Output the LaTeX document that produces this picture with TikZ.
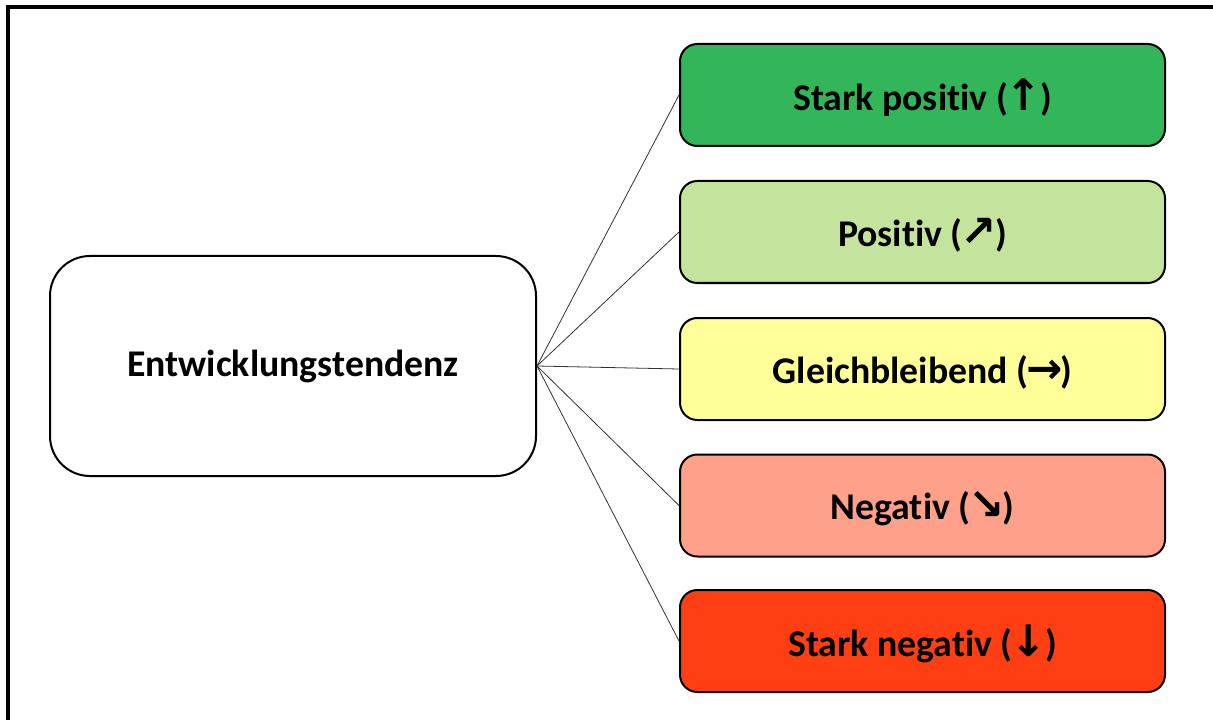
\documentclass[tikz,border=0pt]{standalone}
\usepackage{fontspec}
\setmainfont{Carlito}[Ligatures=NoCommon]
\newfontfamily\arrowfont{DejaVu Sans Bold}
\newcommand\arr[1]{\kern-1.5pt{\arrowfont\scalebox{1.15}{#1}}\kern-1.5pt}
\definecolor{stronggreen}{RGB}{51,181,90}
\definecolor{lightgreen}{RGB}{196,228,158}
\definecolor{paleyellow}{RGB}{255,255,153}
\definecolor{salmon}{RGB}{255,160,138}
\definecolor{brightred}{RGB}{255,62,20}
\tikzset{
  px/.style={x=0.75pt,y=-0.75pt},
  hubbox/.style={draw=black,line width=1.5pt,fill=white,rounded corners=30pt,
    minimum width=364.5pt,minimum height=165pt,font=\fontsize{28.3}{32}\selectfont\bfseries},
  levelbox/.style={draw=black,line width=1.5pt,rounded corners=13pt,
    minimum width=363.75pt,minimum height=76.5pt,text depth=0pt,
    font=\fontsize{28.3}{32}\selectfont\bfseries},
  spoke/.style={draw=black!80,line width=0.6pt}
}
\begin{document}
\begin{tikzpicture}[px]
\useasboundingbox (0,0) rectangle (1213,720);
\fill[white] (0,0) rectangle (1213,720);
% outer frame, only its top and left sides fall inside the page
\draw[line width=2.4pt] (8,7) rectangle (1230,740);

\node[hubbox] (hub) at (293,366) {Entwicklungstendenz};

\node[levelbox,fill=stronggreen] (l1) at (922.5,95) {Stark positiv (\arr{↑})};
\node[levelbox,fill=lightgreen]  (l2) at (922.5,232) {Positiv (\arr{↗})};
\node[levelbox,fill=paleyellow]  (l3) at (922.5,369) {Gleichbleibend (\arr{→})};
\node[levelbox,fill=salmon]      (l4) at (922.5,505.5) {Negativ (\arr{↘})};
\node[levelbox,fill=brightred]   (l5) at (922.5,641) {Stark negativ (\arr{↓})};

\foreach \n in {l1,l2,l3,l4,l5}
  \draw[spoke] (hub.east) -- (\n.west);
\end{tikzpicture}
\end{document}
